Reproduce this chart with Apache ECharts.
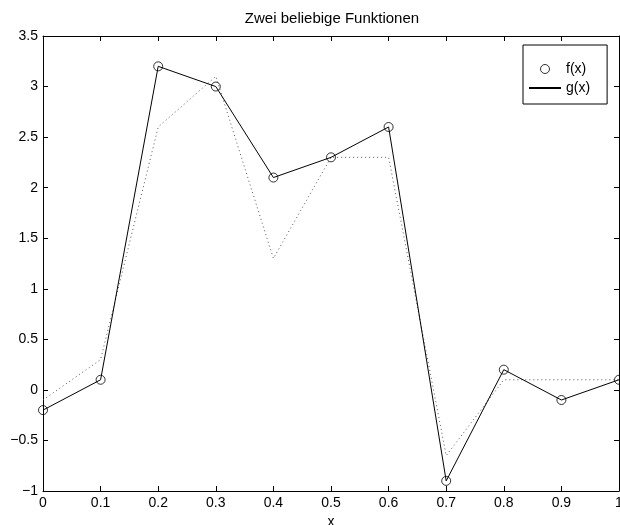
<!DOCTYPE html>
<html>
<head>
<meta charset="utf-8">
<script src="https://cdn.jsdelivr.net/npm/echarts@6/dist/echarts.min.js"></script>
<style>
  html, body { margin: 0; padding: 0; background: #fff; }
  #chart { width: 620px; height: 525px; }
</style>
</head>
<body>
<div id="chart"></div>
<script>
// values
const xValues = [0, 0.1, 0.2, 0.3, 0.4, 0.5, 0.6, 0.7, 0.8, 0.9, 1];
const fValues = [-0.2, 0.1, 3.2, 3.0, 2.1, 2.3, 2.6, -0.9, 0.2, -0.1, 0.1];
const gValues = [-0.1, 0.3, 2.6, 3.1, 1.3, 2.3, 2.3, -0.65, 0.1, 0.1, 0.1];
const titleText = 'Zwei beliebige Funktionen';
const legendNames = ['f(x)', 'g(x)'];

const font = 'Liberation Sans, Arial, Helvetica, sans-serif';
const pairs = (ys) => xValues.map((x, i) => [x, ys[i]]);
const minus = (v) => String(v).replace('-', '\u2212');

const chart = echarts.init(document.getElementById('chart'));

const baseX = {
    type: 'value', min: 0, max: 1, interval: 0.1,
    axisLine: { show: true, onZero: false, lineStyle: { color: '#000', width: 1 } },
    axisTick: { show: true, inside: true, length: 5, lineStyle: { color: '#000' } },
    splitLine: { show: false }
};
const baseY = {
    type: 'value', min: -1, max: 3.5, interval: 0.5,
    axisLine: { show: true, onZero: false, lineStyle: { color: '#000', width: 1 } },
    axisTick: { show: true, inside: true, length: 5, lineStyle: { color: '#000' } },
    splitLine: { show: false }
};

const option = {
    animation: false,
    backgroundColor: '#fff',
    textStyle: { fontFamily: font },
    title: {
        text: titleText,
        left: 332, top: 11, textAlign: 'center', padding: 0,
        textStyle: { fontFamily: font, fontSize: 15, fontWeight: 'normal', color: '#000' }
    },
    legend: {
        orient: 'vertical',
        left: 523, top: 45,
        padding: [17, 17, 9, 5],
        itemGap: 5,
        itemWidth: 32, itemHeight: 9,
        borderColor: '#000', borderWidth: 1,
        backgroundColor: '#fff',
        textStyle: { fontFamily: font, fontSize: 14, color: '#000' },
        data: [
            { name: legendNames[0], icon: 'circle',
              itemStyle: { color: 'transparent', borderColor: '#000', borderWidth: 1 } },
            { name: legendNames[1], itemStyle: { opacity: 0 } }
        ]
    },
    grid: { left: 43, right: 1, top: 36, bottom: 34, containLabel: false, outerBoundsMode: 'none' },
    xAxis: [
        Object.assign({}, baseX, {
            position: 'bottom',
            name: 'x', nameLocation: 'middle', nameGap: 15,
            nameTextStyle: { fontFamily: font, fontSize: 14, color: '#000' },
            axisLabel: { fontFamily: font, fontSize: 14, color: '#000', margin: 5, hideOverlap: false }
        }),
        Object.assign({}, baseX, { position: 'top', axisLabel: { show: false } })
    ],
    yAxis: [
        Object.assign({}, baseY, {
            position: 'left',
            axisLabel: { fontFamily: font, fontSize: 14, color: '#000', margin: 5, formatter: minus }
        }),
        Object.assign({}, baseY, { position: 'right', axisLabel: { show: false } })
    ],
    series: [
        {
            name: 'dotted',
            type: 'line',
            data: pairs(gValues),
            symbol: 'none',
            lineStyle: { color: '#555', width: 1, type: [1, 3] },
            z: 2
        },
        {
            name: legendNames[1],
            type: 'line',
            data: pairs(fValues),
            symbol: 'none',
            color: '#000',
            lineStyle: { color: '#000', width: 1 },
            z: 3
        },
        {
            name: legendNames[0],
            type: 'scatter',
            data: pairs(fValues),
            symbol: 'circle',
            symbolSize: 9,
            clip: false,
            itemStyle: { color: 'transparent', borderColor: '#000', borderWidth: 1 },
            z: 4
        }
    ]
};

chart.setOption(option);
</script>
</body>
</html>
